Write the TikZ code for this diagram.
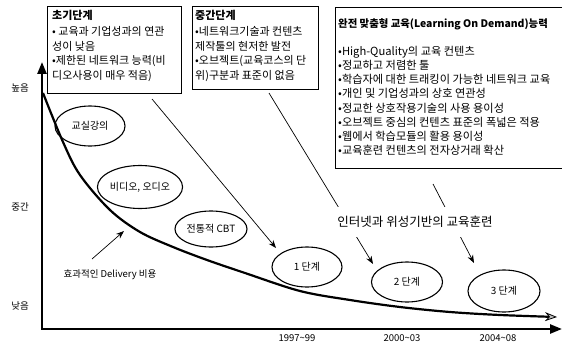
\documentclass[tikz,border=0pt]{standalone}
\usepackage{fontspec}
\setmainfont{Noto Sans CJK KR}
\usetikzlibrary{shapes.geometric,arrows.meta}
\begin{document}
\begin{tikzpicture}[x=1pt,y=-1pt,
  frame/.style={draw, line width=0.8pt, anchor=north west, inner sep=0pt},
  boxtext/.style={anchor=north west, align=left, inner sep=0pt},
  stage/.style={draw, ellipse, line width=1.1pt, inner sep=0pt, font=\fontsize{10}{12}\selectfont},
  conn/.style={-{Stealth[length=8pt,width=6pt]}, line width=0.7pt},
  lbl/.style={font=\fontsize{9.5}{12}\selectfont},
  axis/.style={line width=2.4pt, line join=miter}]
\useasboundingbox (0,0) rectangle (562,345);

% boxes
\node[frame, minimum width=134pt, minimum height=87pt] (b1) at (47,6) {};
\node[boxtext, font=\fontsize{11}{14.5}\selectfont] (b1t) at (52,10)
  {\textbf{초기단계}\\[2pt]• 교육과 기업성과의 연관\\성이 낮음\\•제한된 네트워크 능력(비\\디오사용이 매우 적음)};

\node[frame, minimum width=126pt, minimum height=83pt] (b2) at (192,6) {};
\node[boxtext, font=\fontsize{11}{14.5}\selectfont] (b2t) at (195,10)
  {\textbf{중간단계}\\[2pt]•네트워크기술과 컨텐츠\\제작툴의 현저한 발전\\•오브젝트(교육코스의 단\\위)구분과 표준이 없음};

\node[frame, minimum width=260pt, minimum height=161pt] (b3) at (335,7) {};
\node[boxtext, font=\fontsize{11.2}{14.2}\selectfont] (b3t) at (338,18)
  {{\fontsize{10.4}{14.2}\selectfont\textbf{완전 맞춤형 교육(Learning On Demand)능력}}\\[14pt]
   •High-Quality의 교육 컨텐츠\\
   •정교하고 저렴한 툴\\
   •학습자에 대한 트래킹이 가능한 네트워크 교육\\
   •개인 및 기업성과의 상호 연관성\\
   •정교한 상호작용기술의 사용 용이성\\
   •오브젝트 중심의 컨텐츠 표준의 폭넓은 적용\\
   •웹에서 학습모듈의 활용 용이성\\
   •교육훈련 컨텐츠의 전자상거래 확산};

% axes
\coordinate (Ytop) at (42,62);
\coordinate (O) at (42,329);
\coordinate (Xend) at (562,329);
\draw[axis, {Triangle[length=12pt,width=9pt]}-{Triangle[length=12pt,width=9pt]}] (Ytop) -- (O) -- (Xend);

\node[lbl] (hi) at (20,88) {높음};
\node[lbl] (mid) at (20,207) {중간};
\node[lbl] (lo) at (20,306) {낮음};

% cost curve
\draw[line width=2.2pt, -{Stealth[length=12pt,width=9pt,fill=gray!50,line width=0.8pt]}]
  plot[smooth, tension=0.55] coordinates {(43,93) (63,142) (80,175) (110,210) (140,232) (173,247) (207,260) (245,273) (300,291) (350,300) (400,307) (450,312) (500,315) (557,317)};

% ellipses
\node[stage, minimum width=70pt, minimum height=40pt] (e1) at (90,126) {교실강의};
\node[stage, minimum width=74pt, minimum height=43pt] (e2) at (140,187) {비디오, 오디오};
\node[stage, minimum width=72pt, minimum height=36pt] (e3) at (211,229) {전통적 CBT};
\node[stage, minimum width=70pt, minimum height=40pt] (s1) at (307,267) {1 단계};
\node[stage, minimum width=71pt, minimum height=40pt] (s2) at (407,282) {2 단계};
\node[stage, minimum width=72pt, minimum height=42pt] (s3) at (504,291) {3 단계};

% connectors
\coordinate (c1a) at (152,99);
\coordinate (c1b) at (276,248);
\draw[conn] (c1a) -- (c1b);
\coordinate (c2a) at (269,93);
\coordinate (c2b) at (373,264);
\draw[conn] (c2a) -- (c2b);
\coordinate (c3a) at (433,184);
\coordinate (c3b) at (474,263);
\draw[conn] (c3a) -- (c3b);

\node[fill=white, inner xsep=2pt, inner ysep=9pt, font=\fontsize{12.5}{14}\selectfont] (net) at (415,222) {인터넷과 위성기반의 교육훈련};

\node[lbl] (deliv) at (110,275) {효과적인 Delivery 비용};
\coordinate (d1) at (92,259);
\coordinate (d2) at (124,231);
\draw[conn] (d1) -- (d2);

% years
\node[lbl] (y1) at (297,338) {1997\textasciitilde99};
\node[lbl] (y2) at (402,338) {2000\textasciitilde03};
\node[lbl] (y3) at (498,338) {2004\textasciitilde08};
\end{tikzpicture}
\end{document}
